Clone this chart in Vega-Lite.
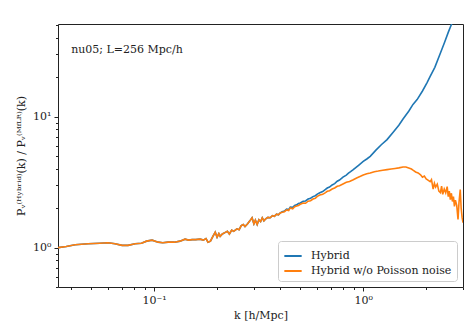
{
  "$schema": "https://vega.github.io/schema/vega-lite/v6.json",
  "autosize": {"type": "none"},
  "padding": {"left": 58, "top": 24, "right": 8, "bottom": 38},
  "width": 405,
  "height": 263,
  "config": {
    "view": {"stroke": "#222", "strokeWidth": 1},
    "font": "DejaVu Serif",
    "axis": {"domain": false, "tickColor": "#222", "labelColor": "#222", "titleColor": "#222", "labelFont": "DejaVu Serif", "titleFont": "DejaVu Serif", "labelFontSize": 11, "titleFontSize": 11, "titleFontWeight": "normal", "grid": false}
  },
  "datasets": {
    "hyb": [
      {"k":0.0347,"P":1.00},{"k":0.038,"P":1.02},{"k":0.0419,"P":1.05},{"k":0.0483,"P":1.07},{"k":0.055,"P":1.08},{"k":0.0602,"P":1.09},{"k":0.065,"P":1.07},{"k":0.0703,"P":1.04},{"k":0.075,"P":1.04},{"k":0.0811,"P":1.07},{"k":0.087,"P":1.08},{"k":0.092,"P":1.12},{"k":0.0978,"P":1.14},{"k":0.1045,"P":1.10},{"k":0.11,"P":1.09},{"k":0.1166,"P":1.10},{"k":0.125,"P":1.10},{"k":0.133,"P":1.12},{"k":0.1406,"P":1.16},{"k":0.146,"P":1.14},{"k":0.152,"P":1.15},{"k":0.158,"P":1.15},{"k":0.166,"P":1.16},{"k":0.172,"P":1.14},{"k":0.177,"P":1.17},{"k":0.181,"P":1.10},{"k":0.186,"P":1.12},{"k":0.191,"P":1.22},{"k":0.196,"P":1.31},{"k":0.200,"P":1.20},{"k":0.204,"P":1.28},{"k":0.207,"P":1.22},{"k":0.212,"P":1.27},{"k":0.218,"P":1.30},{"k":0.224,"P":1.33},{"k":0.229,"P":1.27},{"k":0.235,"P":1.36},{"k":0.240,"P":1.33},{"k":0.249,"P":1.39},{"k":0.255,"P":1.37},{"k":0.261,"P":1.47},{"k":0.267,"P":1.50},{"k":0.272,"P":1.45},{"k":0.280,"P":1.52},{"k":0.287,"P":1.60},{"k":0.294,"P":1.69},{"k":0.300,"P":1.52},{"k":0.305,"P":1.62},{"k":0.311,"P":1.50},{"k":0.317,"P":1.63},{"k":0.323,"P":1.58},{"k":0.329,"P":1.69},{"k":0.335,"P":1.60},{"k":0.342,"P":1.66},{"k":0.350,"P":1.70},{"k":0.359,"P":1.69},{"k":0.368,"P":1.75},{"k":0.376,"P":1.73},{"k":0.385,"P":1.80},{"k":0.393,"P":1.78},{"k":0.401,"P":1.84},
      {"k":0.41,"P":1.88},{"k":0.42,"P":1.90},{"k":0.43,"P":1.97},{"k":0.44,"P":1.95},{"k":0.448,"P":2.04},{"k":0.46,"P":2.03},{"k":0.47,"P":2.10},{"k":0.48,"P":2.12},{"k":0.49,"P":2.17},{"k":0.50,"P":2.19},{"k":0.516,"P":2.26},{"k":0.53,"P":2.27},{"k":0.545,"P":2.35},{"k":0.56,"P":2.38},{"k":0.575,"P":2.45},{"k":0.59,"P":2.49},{"k":0.603,"P":2.56},{"k":0.62,"P":2.62},{"k":0.64,"P":2.68},{"k":0.66,"P":2.78},{"k":0.673,"P":2.85},{"k":0.69,"P":2.90},{"k":0.71,"P":3.01},{"k":0.73,"P":3.08},{"k":0.751,"P":3.21},{"k":0.77,"P":3.28},{"k":0.80,"P":3.45},{"k":0.83,"P":3.58},{"k":0.85,"P":3.70},{"k":0.87,"P":3.80},{"k":0.896,"P":3.94},{"k":0.95,"P":4.25},{"k":1.0,"P":4.55},{"k":1.04,"P":4.75},{"k":1.08,"P":4.98},{"k":1.15,"P":5.55},{"k":1.22,"P":6.1},{"k":1.30,"P":6.68},{"k":1.40,"P":7.7},{"k":1.48,"P":8.6},{"k":1.55,"P":9.6},{"k":1.65,"P":11.0},{"k":1.73,"P":12.4},{"k":1.81,"P":13.5},{"k":1.92,"P":15.7},{"k":2.02,"P":18.2},{"k":2.09,"P":20.3},{"k":2.20,"P":23.8},{"k":2.34,"P":30.6},{"k":2.45,"P":37},{"k":2.55,"P":44},{"k":2.64,"P":50.5},{"k":2.75,"P":58},{"k":2.85,"P":66},{"k":3.0,"P":80}
    ],
    "nopois": [
      {"k":0.0347,"P":1.00},{"k":0.038,"P":1.02},{"k":0.0419,"P":1.05},{"k":0.0483,"P":1.07},{"k":0.055,"P":1.08},{"k":0.0602,"P":1.09},{"k":0.065,"P":1.07},{"k":0.0703,"P":1.04},{"k":0.075,"P":1.04},{"k":0.0811,"P":1.07},{"k":0.087,"P":1.08},{"k":0.092,"P":1.12},{"k":0.0978,"P":1.14},{"k":0.1045,"P":1.10},{"k":0.11,"P":1.09},{"k":0.1166,"P":1.10},{"k":0.125,"P":1.10},{"k":0.133,"P":1.12},{"k":0.1406,"P":1.16},{"k":0.146,"P":1.14},{"k":0.152,"P":1.15},{"k":0.158,"P":1.15},{"k":0.166,"P":1.16},{"k":0.172,"P":1.14},{"k":0.177,"P":1.17},{"k":0.181,"P":1.10},{"k":0.186,"P":1.12},{"k":0.191,"P":1.22},{"k":0.196,"P":1.31},{"k":0.200,"P":1.20},{"k":0.204,"P":1.28},{"k":0.207,"P":1.22},{"k":0.212,"P":1.27},{"k":0.218,"P":1.30},{"k":0.224,"P":1.33},{"k":0.229,"P":1.27},{"k":0.235,"P":1.36},{"k":0.240,"P":1.33},{"k":0.249,"P":1.39},{"k":0.255,"P":1.37},{"k":0.261,"P":1.47},{"k":0.267,"P":1.50},{"k":0.272,"P":1.45},{"k":0.280,"P":1.52},{"k":0.287,"P":1.60},{"k":0.294,"P":1.69},{"k":0.300,"P":1.52},{"k":0.305,"P":1.62},{"k":0.311,"P":1.50},{"k":0.317,"P":1.63},{"k":0.323,"P":1.58},{"k":0.329,"P":1.69},{"k":0.335,"P":1.60},{"k":0.342,"P":1.66},{"k":0.350,"P":1.70},{"k":0.359,"P":1.69},{"k":0.368,"P":1.75},{"k":0.376,"P":1.73},{"k":0.385,"P":1.80},{"k":0.393,"P":1.78},{"k":0.401,"P":1.84},
      {"k":0.41,"P":1.86},{"k":0.42,"P":1.88},{"k":0.43,"P":1.94},{"k":0.44,"P":1.92},{"k":0.448,"P":2.01},{"k":0.46,"P":1.98},{"k":0.47,"P":2.05},{"k":0.48,"P":2.08},{"k":0.49,"P":2.10},{"k":0.50,"P":2.14},{"k":0.516,"P":2.19},{"k":0.53,"P":2.18},{"k":0.545,"P":2.26},{"k":0.56,"P":2.28},{"k":0.575,"P":2.35},{"k":0.59,"P":2.38},{"k":0.603,"P":2.46},{"k":0.62,"P":2.52},{"k":0.64,"P":2.55},{"k":0.66,"P":2.63},{"k":0.673,"P":2.69},{"k":0.69,"P":2.72},{"k":0.71,"P":2.80},{"k":0.73,"P":2.85},{"k":0.751,"P":2.94},{"k":0.77,"P":2.97},{"k":0.80,"P":3.06},{"k":0.83,"P":3.15},{"k":0.86,"P":3.20},{"k":0.896,"P":3.30},{"k":0.93,"P":3.40},{"k":0.97,"P":3.50},{"k":1.0,"P":3.58},{"k":1.04,"P":3.66},{"k":1.08,"P":3.71},{"k":1.13,"P":3.80},{"k":1.18,"P":3.84},{"k":1.24,"P":3.90},{"k":1.30,"P":3.94},{"k":1.36,"P":3.98},{"k":1.42,"P":4.02},{"k":1.48,"P":4.06},{"k":1.55,"P":4.12},{"k":1.60,"P":4.12},{"k":1.65,"P":4.05},{"k":1.70,"P":3.98},{"k":1.73,"P":3.90},{"k":1.78,"P":3.78},{"k":1.83,"P":3.72},{"k":1.88,"P":3.60},{"k":1.92,"P":3.45},{"k":1.96,"P":3.52},{"k":2.0,"P":3.35},{"k":2.04,"P":3.28},{"k":2.09,"P":3.19},{"k":2.12,"P":3.30},{"k":2.16,"P":2.80},{"k":2.19,"P":3.10},{"k":2.22,"P":2.90},{"k":2.26,"P":3.05},{"k":2.30,"P":2.70},{"k":2.34,"P":2.63},{"k":2.37,"P":2.95},{"k":2.40,"P":2.55},{"k":2.44,"P":2.80},{"k":2.48,"P":2.62},{"k":2.52,"P":2.92},{"k":2.55,"P":2.45},{"k":2.58,"P":2.70},{"k":2.61,"P":2.32},{"k":2.64,"P":2.60},{"k":2.67,"P":2.25},{"k":2.70,"P":2.45},{"k":2.73,"P":2.06},{"k":2.76,"P":2.30},{"k":2.80,"P":2.10},{"k":2.84,"P":1.64},{"k":2.87,"P":2.20},{"k":2.91,"P":2.77},{"k":2.94,"P":2.00},{"k":2.97,"P":1.70},{"k":3.0,"P":1.55}
    ]
  },
  "layer": [
    {
      "data": {"name": "hyb"},
      "transform": [{"calculate": "'Hybrid'", "as": "series"}],
      "mark": {"type": "line", "clip": true, "strokeWidth": 1.6},
      "encoding": {
        "x": {"field": "k", "type": "quantitative", "scale": {"type": "log", "domain": [0.0347, 3.0], "nice": false},
          "axis": {"orient": "bottom", "values": [0.04,0.05,0.06,0.07,0.08,0.09,0.1,0.2,0.3,0.4,0.5,0.6,0.7,0.8,0.9,1,2,3],
            "labelExpr": "datum.value == 0.1 ? '10⁻¹' : (datum.value == 1 ? '10⁰' : '')",
            "tickSize": {"condition": {"test": "datum.value == 0.1 || datum.value == 1", "value": 4}, "value": 2.5},
            "labelPadding": 3, "labelOverlap": false, "title": "k [h/Mpc]", "titlePadding": 4}},
        "y": {"field": "P", "type": "quantitative", "scale": {"type": "log", "domain": [0.5, 51], "nice": false},
          "axis": {"orient": "left", "values": [0.5,0.6,0.7,0.8,0.9,1,2,3,4,5,6,7,8,9,10,20,30,40,50],
            "labelExpr": "datum.value == 1 ? '10⁰' : (datum.value == 10 ? '10¹' : '')",
            "tickSize": {"condition": {"test": "datum.value == 1 || datum.value == 10", "value": 4}, "value": 2.5},
            "labelPadding": 3, "labelOverlap": false, "title": "Pᵥ⁽ᴴʸᵇʳⁱᵈ⁾(k) / Pᵥ⁽ᴹᶠᴸᴿ⁾(k)", "titlePadding": 6}},
        "color": {"field": "series", "type": "nominal",
          "scale": {"domain": ["Hybrid", "Hybrid w/o Poisson noise"], "range": ["#1f77b4", "#ff7f0e"]},
          "legend": {"title": null, "orient": "bottom-right", "offset": 6, "symbolType": "stroke", "symbolSize": 300, "symbolStrokeWidth": 2, "labelFont": "DejaVu Serif", "labelFontSize": 11, "labelColor": "#222", "fillColor": "white", "strokeColor": "#cccccc", "cornerRadius": 3, "padding": 5, "rowPadding": 0, "labelOffset": 8}}
      }
    },
    {
      "data": {"name": "nopois"},
      "transform": [{"calculate": "'Hybrid w/o Poisson noise'", "as": "series"}],
      "mark": {"type": "line", "clip": true, "strokeWidth": 1.6},
      "encoding": {
        "x": {"field": "k", "type": "quantitative"},
        "y": {"field": "P", "type": "quantitative"},
        "color": {"field": "series", "type": "nominal"}
      }
    },
    {
      "data": {"values": [{"label": "nu05; L=256 Mpc/h", "k": 0.0401, "P": 32.5}]},
      "mark": {"type": "text", "align": "left", "baseline": "middle", "font": "DejaVu Serif", "fontSize": 11, "color": "#222"},
      "encoding": {
        "x": {"field": "k", "type": "quantitative"},
        "y": {"field": "P", "type": "quantitative"},
        "text": {"field": "label"}
      }
    }
  ]
}
